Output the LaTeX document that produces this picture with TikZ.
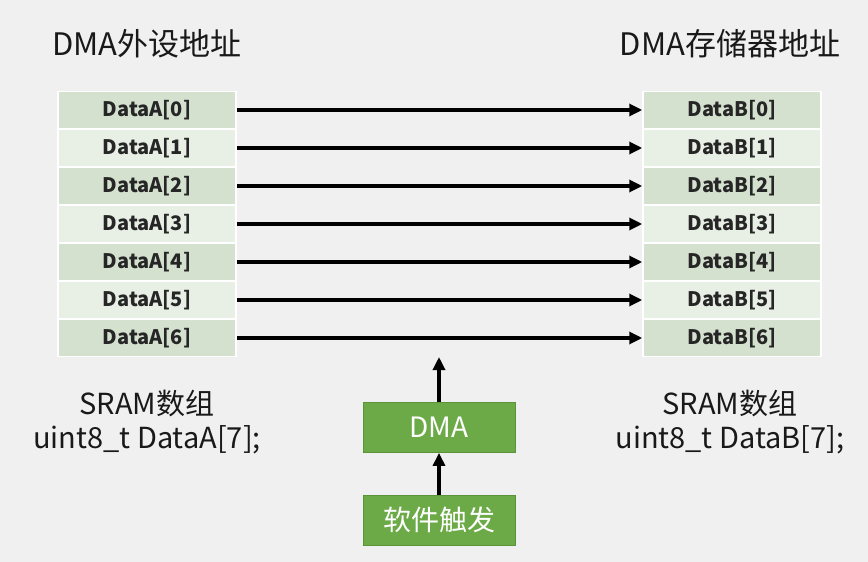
\documentclass[tikz,border=0pt]{standalone}
\usepackage{fontspec}
\setmainfont{Noto Sans CJK SC}
\usetikzlibrary{arrows.meta}
\definecolor{bgc}{HTML}{F0F0F0}
\definecolor{rowdark}{HTML}{D5E1CF}
\definecolor{rowlight}{HTML}{E8EFE5}
\definecolor{dmagreen}{HTML}{6CAA47}
\definecolor{dmaborder}{HTML}{5B9438}
\tikzset{
  cellbox/.style={draw=white, line width=1.5pt, minimum width=178pt, minimum height=37pt, inner sep=0pt, font=\fontsize{20}{22}\selectfont\bfseries, text=black!85},
  darkrow/.style={cellbox, fill=rowdark},
  lightrow/.style={cellbox, fill=rowlight},
  greenbox/.style={draw=dmaborder, line width=0.8pt, fill=dmagreen, minimum width=152pt, minimum height=50pt, inner sep=0pt, text=white, font=\fontsize{28}{30}\selectfont},
  bigarrow/.style={line width=3.2pt, -{Triangle[length=13pt,width=12pt]}},
  titletext/.style={font=\fontsize{31}{34}\selectfont, text=black!90, inner sep=0pt},
  labeltext/.style={font=\fontsize{29}{34}\selectfont, text=black!90, align=center, inner sep=0pt}
}
\begin{document}
\begin{tikzpicture}[x=1pt,y=-1pt]
\fill[bgc] (0,0) rectangle (868,562);
\useasboundingbox (0,0) rectangle (868,562);
\node[titletext] (tl) at (147,44) {DMA外设地址};
\node[titletext] (tr) at (730,44) {DMA存储器地址};
\foreach \i in {0,...,6} {
  \pgfmathtruncatemacro{\r}{mod(\i,2)}
  \ifnum\r=0
    \node[darkrow] (a\i) at (147,{110+38*\i}) {DataA[\i]};
    \node[darkrow] (b\i) at (732,{110+38*\i}) {DataB[\i]};
  \else
    \node[lightrow] (a\i) at (147,{110+38*\i}) {DataA[\i]};
    \node[lightrow] (b\i) at (732,{110+38*\i}) {DataB[\i]};
  \fi
}
\foreach \i in {0,...,6} {
  \draw[bigarrow] (a\i.east) -- (b\i.west);
}
\node[labeltext] (la) at (147,422) {SRAM数组\\uint8\_t DataA[7];};
\node[labeltext] (lb) at (730,422) {SRAM数组\\uint8\_t DataB[7];};
\node[greenbox] (dma) at (439,427.5) {DMA};
\node[greenbox] (sw) at (439,520) {软件触发};
\coordinate (tip) at (439,357);
\draw[bigarrow] (sw.north) -- (dma.south);
\draw[bigarrow] (dma.north) -- (tip);
\end{tikzpicture}
\end{document}
